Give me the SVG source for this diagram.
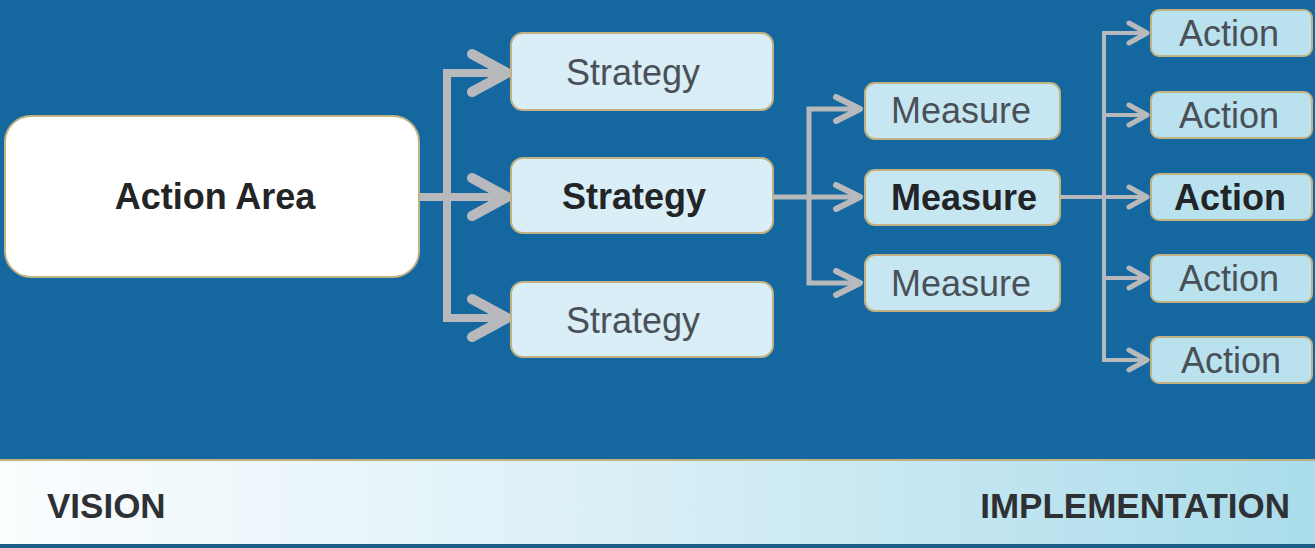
<svg xmlns="http://www.w3.org/2000/svg" width="1315" height="548" viewBox="0 0 1315 548">
  <defs>
    <linearGradient id="band" x1="0" y1="0" x2="1" y2="0">
      <stop offset="0" stop-color="#fbfdfe"/>
      <stop offset="0.45" stop-color="#dcf0f7"/>
      <stop offset="1" stop-color="#aadcea"/>
    </linearGradient>
    <marker id="ah1" markerUnits="userSpaceOnUse" viewBox="0 0 60 60" markerWidth="60" markerHeight="60" refX="50" refY="30" orient="auto">
      <path d="M15 11 L50 30 L15 49" fill="none" stroke="#b7b9bc" stroke-width="10" stroke-linecap="round" stroke-linejoin="round"/>
    </marker>
    <marker id="ah2" markerUnits="userSpaceOnUse" viewBox="0 0 40 40" markerWidth="40" markerHeight="40" refX="33" refY="20" orient="auto">
      <path d="M9 8 L33 20 L9 32" fill="none" stroke="#b7b9bc" stroke-width="6" stroke-linecap="round" stroke-linejoin="round"/>
    </marker>
    <marker id="ah3" markerUnits="userSpaceOnUse" viewBox="0 0 30 30" markerWidth="30" markerHeight="30" refX="24" refY="15" orient="auto">
      <path d="M6 5 L24 15 L6 25" fill="none" stroke="#b7b9bc" stroke-width="5" stroke-linecap="round" stroke-linejoin="round"/>
    </marker>
    <style>
      .box { stroke: #c2b282; stroke-width: 2; }
      .area { fill: #ffffff; }
      .strat { fill: #d9eef6; }
      .meas { fill: #c6e7f1; }
      .act { fill: #b9e2ee; }
      .t { font-family: "Liberation Sans", Arial, sans-serif; font-size: 36px; text-anchor: middle; fill: #4a5058; }
      .b { font-weight: bold; fill: #222426; }
      .lbl { font-family: "Liberation Sans", Arial, sans-serif; font-size: 35px; font-weight: bold; fill: #2e3033; }
      .c1 { fill: none; stroke: #b7b9bc; stroke-width: 8; stroke-linejoin: miter; marker-end: url(#ah1); }
      .c2 { fill: none; stroke: #b7b9bc; stroke-width: 5; stroke-linejoin: miter; marker-end: url(#ah2); }
      .c3 { fill: none; stroke: #b7b9bc; stroke-width: 4; stroke-linejoin: miter; marker-end: url(#ah3); }
    </style>
  </defs>

  <rect x="0" y="0" width="1315" height="548" fill="#14689f"/>

  <g id="band-bottom">
    <rect x="0" y="460" width="1315" height="85" fill="url(#band)"/>
    <line x1="0" y1="460" x2="1315" y2="460" stroke="#c2b282" stroke-width="2"/>
    <rect x="0" y="544" width="1315" height="4" fill="#1c5f86"/>
    <text class="lbl" x="47" y="518">VISION</text>
    <text class="lbl" x="1290" y="518" text-anchor="end">IMPLEMENTATION</text>
  </g>

  <g id="connectors">
    <path class="c1" d="M419 197 H507"/>
    <path class="c1" d="M447 197 V73 H507"/>
    <path class="c1" d="M447 197 V318 H507"/>
    <path class="c2" d="M773 197 H860"/>
    <path class="c2" d="M809 197 V109 H860"/>
    <path class="c2" d="M809 197 V283 H860"/>
    <path class="c3" d="M1060 197 H1147"/>
    <path class="c3" d="M1104 197 V33 H1147"/>
    <path class="c3" d="M1104 197 V115 H1147"/>
    <path class="c3" d="M1104 197 V278 H1147"/>
    <path class="c3" d="M1104 197 V360 H1147"/>
  </g>

  <g id="action-area">
    <rect class="box area" x="5" y="116" width="414" height="161" rx="26"/>
    <text class="t b" x="215" y="209">Action Area</text>
  </g>

  <g id="strategy-1">
    <rect class="box strat" x="511" y="33" width="262" height="77" rx="12"/>
    <text class="t" x="633" y="85">Strategy</text>
  </g>
  <g id="strategy-2">
    <rect class="box strat" x="511" y="158" width="262" height="75" rx="12"/>
    <text class="t b" x="634" y="209">Strategy</text>
  </g>
  <g id="strategy-3">
    <rect class="box strat" x="511" y="282" width="262" height="75" rx="12"/>
    <text class="t" x="633" y="333">Strategy</text>
  </g>

  <g id="measure-1">
    <rect class="box meas" x="865" y="83" width="195" height="56" rx="10"/>
    <text class="t" x="961" y="123">Measure</text>
  </g>
  <g id="measure-2">
    <rect class="box meas" x="865" y="170" width="195" height="55" rx="10"/>
    <text class="t b" x="964" y="210">Measure</text>
  </g>
  <g id="measure-3">
    <rect class="box meas" x="865" y="255" width="195" height="56" rx="10"/>
    <text class="t" x="961" y="296">Measure</text>
  </g>

  <g id="action-1">
    <rect class="box act" x="1151" y="10" width="161" height="46" rx="8"/>
    <text class="t" x="1229" y="46">Action</text>
  </g>
  <g id="action-2">
    <rect class="box act" x="1151" y="92" width="161" height="46" rx="8"/>
    <text class="t" x="1229" y="128">Action</text>
  </g>
  <g id="action-3">
    <rect class="box act" x="1151" y="174" width="161" height="46" rx="8"/>
    <text class="t b" x="1230" y="210">Action</text>
  </g>
  <g id="action-4">
    <rect class="box act" x="1151" y="255" width="161" height="47" rx="8"/>
    <text class="t" x="1229" y="291">Action</text>
  </g>
  <g id="action-5">
    <rect class="box act" x="1151" y="337" width="161" height="46" rx="8"/>
    <text class="t" x="1231" y="373">Action</text>
  </g>
</svg>
